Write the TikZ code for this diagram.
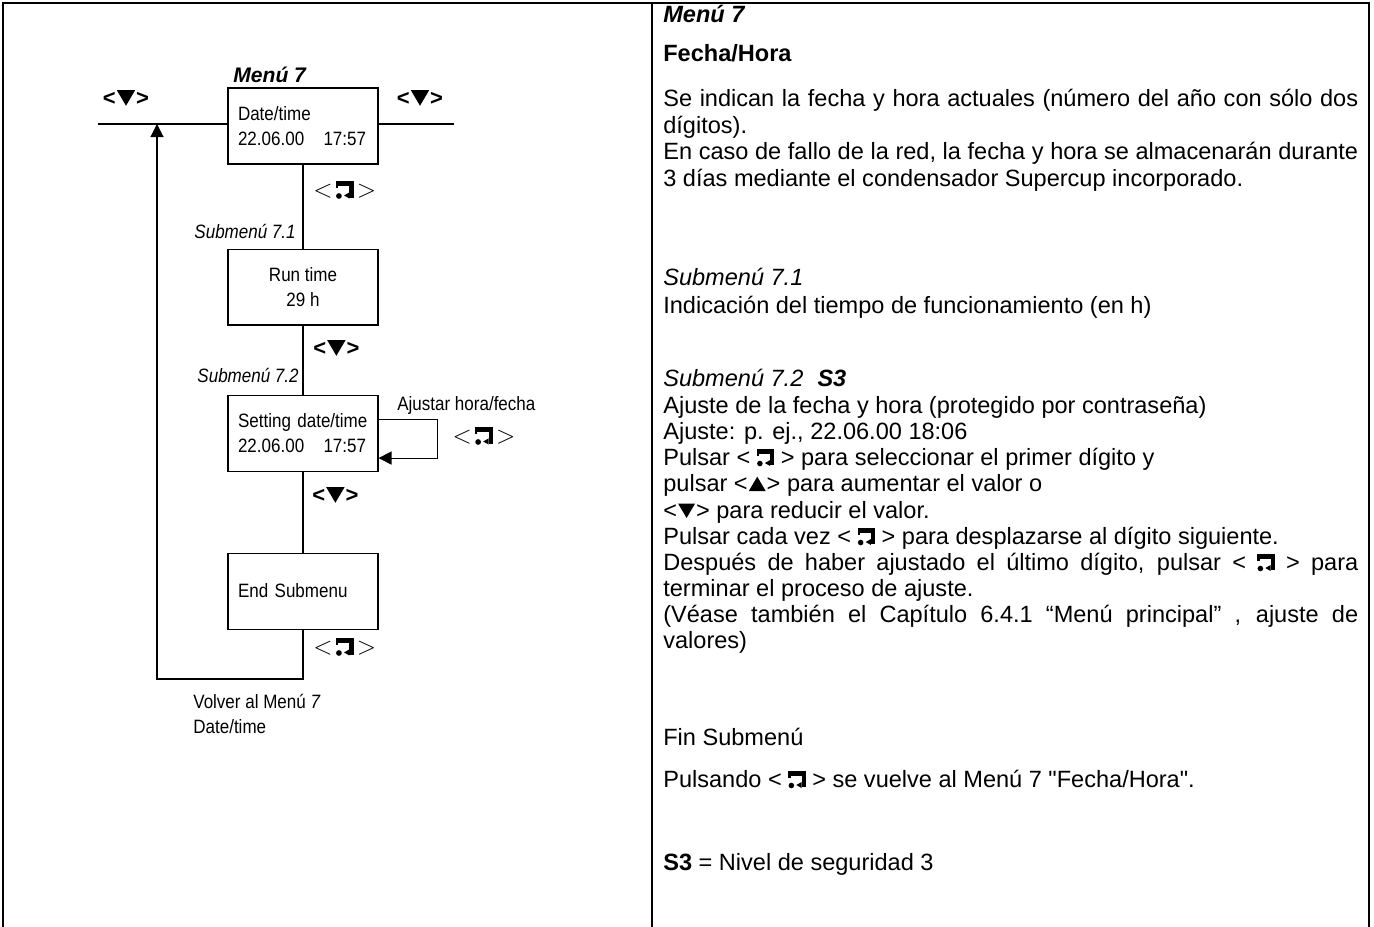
\documentclass[tikz,border=0pt]{standalone}
\usepackage{fontspec}
\setmainfont{Liberation Sans}
\newfontfamily\narrowfont[FakeStretch=0.88]{Liberation Sans}
\usetikzlibrary{arrows.meta, positioning}

% return key glyph
\newcommand{\retkey}[1][1]{\tikz[baseline=0pt, x=#1ex, y=#1ex]{
  \fill (0.15,1.15) rectangle (1.9,1.6);
  \fill (0.15,1.6) rectangle (0.38,0.95);
  \fill (1.48,1.6) rectangle (1.9,0.0);
  \fill (1.48,0.5) -- (0.95,0.2) -- (1.48,-0.1) -- cycle;
  \fill (0.45,0.15) circle (0.28);}}
\newcommand{\navkey}{{\fontsize{14}{14}\selectfont$<$}\,\retkey\,{\fontsize{14}{14}\selectfont$>$}}
% cursor triangles
\newcommand{\dn}[1][1]{\kern0.6pt\tikz[baseline=0pt, scale=#1]\fill (0,6.8pt) -- (8pt,6.8pt) -- (4pt,0) -- cycle;\kern0.6pt}
\newcommand{\up}[1][1]{\kern0.6pt\tikz[baseline=0pt, scale=#1]\fill (0,0) -- (8pt,0) -- (4pt,6.8pt) -- cycle;\kern0.6pt}
\newcommand{\fullline}[1]{\makebox[13.9cm][s]{#1}}

\begin{document}
\begin{tikzpicture}[
    x=0.02cm, y=-0.02cm,
    node distance=1.68cm,
    box/.style={rectangle, draw, line width=0.6pt, minimum width=3cm, minimum height=1.52cm, align=center, font=\narrowfont\fontsize{11}{14.2}\selectfont},
    lbox/.style={box, text width=2.6cm, align=left},
    key/.style={inner sep=0pt, font=\bfseries\fontsize{12.5}{13}\selectfont},
    nav/.style={inner sep=0pt, anchor=west, font=\narrowfont\fontsize{11}{13}\selectfont},
    sub/.style={inner sep=0pt, anchor=base east, font=\narrowfont\itshape\fontsize{11}{13}\selectfont},
    lbl/.style={inner sep=0pt, anchor=base west, align=left, font=\narrowfont\fontsize{11}{14.2}\selectfont},
    txt/.style={inner sep=0pt, anchor=base west, font=\fontsize{13.4}{14.9}\selectfont},
    line/.style={line width=0.6pt},
    arrow/.style={line, -{Triangle[length=0.26cm, width=0.26cm]}},
    frame/.style={line width=0.9pt},
  ]
    \useasboundingbox (0,0) rectangle (1374,927);

    % Frame
    \draw[frame] (3,927) -- (3,3) -- (1369,3) -- (1369,927);
    \draw[frame] (652,3) -- (652,927);

    % Boxes
    \node[lbox] (date) at (303,126) {Date/time\\22.06.00\hspace{1em}17:57};
    \node[box, below=of date] (run) {Run time\\29 h};
    \node[lbox, below=1.38cm of run] (set) {Setting date/time\\22.06.00\hspace{1em}17:57};
    \node[lbox, below=1.62cm of set] (endsub) {End Submenu};

    % Labels
    \node[inner sep=0pt, anchor=base west, font=\bfseries\itshape\fontsize{12}{14}\selectfont] (menu) at (233,82) {Menú 7};
    \node[key] (keyL) at (126,98) {<\dn[1.3]>};
    \node[key] (keyR) at (420,98) {<\dn[1.3]>};
    \node[nav] (nav1) at (313,190) {\navkey};
    \node[sub] (sub1) at (296,238) {Submenú 7.1};
    \node[key, anchor=west] (key2) at (313,348) {<\dn[1.3]>};
    \node[sub] (sub2) at (299,382) {Submenú 7.2};
    \node[lbl] (adj) at (397,410) {Ajustar hora/fecha};
    \node[nav, anchor=center] (nav2) at (484,436) {\navkey};
    \node[key, anchor=west] (key3) at (312,495) {<\dn[1.3]>};
    \node[nav] (nav3) at (313,647) {\navkey};
    \node[lbl] (back) at (193,733) {Volver al Menú \textit{7}\\Date/time};

    % Connectors
    \coordinate (lineL) at (98,124);
    \coordinate (lineR) at (454,124);
    \coordinate (ret) at (157,679);
    \coordinate (rettop) at (157,124);
    \draw[line] (lineL) -- (lineL -| date.west);
    \draw[line] (lineR -| date.east) -- (lineR);
    \draw[line] (date) -- (run);
    \draw[line] (run) -- (set);
    \draw[line] (set) -- (endsub);
    \draw[arrow] ([yshift=0.28cm]set.east) -- ++(1.18cm,0) |- ([yshift=-0.5cm]set.east);
    \draw[arrow] (endsub.south) |- (ret) -- (rettop);

    % Right column
    \node[txt] (r1) at (663,22) {\textbf{\textit{Menú 7}}};
    \node[txt] (r2) at (663,61) {\textbf{Fecha/Hora}};
    \node[txt] (r3) at (663,106) {\fullline{Se indican la fecha y hora actuales (número del año con sólo dos}};
    \node[txt] (r4) at (663,133) {dígitos).};
    \node[txt] (r5) at (663,159) {\fullline{En caso de fallo de la red, la fecha y hora se almacenarán durante}};
    \node[txt] (r6) at (663,186) {3 días mediante el condensador Supercup incorporado.};
    \node[txt] (r7) at (663,285) {\textit{Submenú 7.1}};
    \node[txt] (r8) at (663,313) {Indicación del tiempo de funcionamiento (en h)};
    \node[txt] (r9) at (663,386) {\textit{Submenú 7.2}\hspace{0.6em}\textbf{\textit{S3}}};
    \node[txt] (r10) at (663,413) {Ajuste de la fecha y hora (protegido por contraseña)};
    \node[txt] (r11) at (663,439) {Ajuste: p. ej., 22.06.00 18:06};
    \node[txt] (r12) at (663,465) {Pulsar < \retkey[0.8] > para seleccionar el primer dígito y};
    \node[txt] (r13) at (663,491) {pulsar <\up[1.2]> para aumentar el valor o};
    \node[txt] (r14) at (663,518) {<\dn[1.2]> para reducir el valor.};
    \node[txt] (r15) at (663,544) {Pulsar cada vez < \retkey[0.8] > para desplazarse al dígito siguiente.};
    \node[txt] (r16) at (663,570) {\fullline{Después de haber ajustado el último dígito, pulsar < \retkey[0.8] > para}};
    \node[txt] (r17) at (663,596) {terminar el proceso de ajuste.};
    \node[txt] (r18) at (663,622) {\fullline{(Véase también el Capítulo 6.4.1 “Menú principal” , ajuste de}};
    \node[txt] (r19) at (663,648) {valores)};
    \node[txt] (r20) at (663,745) {Fin Submenú};
    \node[txt] (r21) at (663,787) {Pulsando < \retkey[0.8] > se vuelve al Menú 7 \textquotedbl Fecha/Hora\textquotedbl.};
    \node[txt] (r22) at (663,870) {\textbf{S3} = Nivel de seguridad 3};

  \end{tikzpicture}
\end{document}
